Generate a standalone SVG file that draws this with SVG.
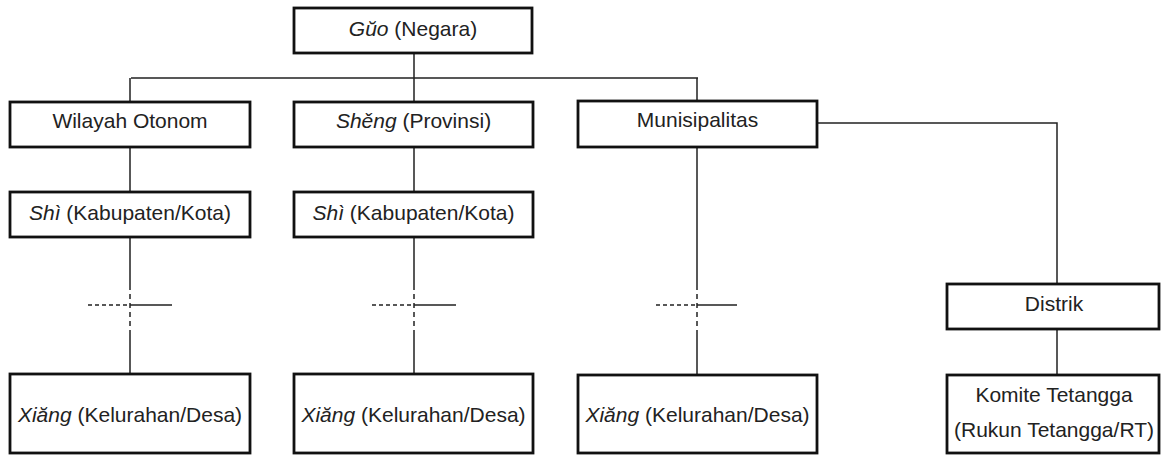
<svg xmlns="http://www.w3.org/2000/svg" width="1161" height="455" viewBox="0 0 1161 455">
<style>
.box{fill:#fff;stroke:#111;stroke-width:2.8}
.t{font-family:"Liberation Sans",Arial,sans-serif;font-size:21px;fill:#222;text-anchor:middle}
.i{font-style:italic}
.ln{stroke:#222;stroke-width:1.5;fill:none}
.dh{stroke:#222;stroke-width:1.5;fill:none;stroke-dasharray:4 3}
.dv{stroke:#222;stroke-width:1.5;fill:none;stroke-dasharray:5 4}
</style>
<rect width="1161" height="455" fill="#fff"/>
<g id="connectors">
<path class="ln" d="M414,53V102M131,78H698M130,78V102M697,78V101"/>
<path class="ln" d="M130,147V192M130,237V285M130,330V374M130,305H172"/>
<path class="dv" d="M130,285V330"/>
<path class="dh" d="M88,305H130"/>
<path class="ln" d="M414,147V192M414,237V285M414,330V374M414,305H456"/>
<path class="dv" d="M414,285V330"/>
<path class="dh" d="M372,305H414"/>
<path class="ln" d="M697,147V285M697,330V375M697,305H737"/>
<path class="dv" d="M697,285V330"/>
<path class="dh" d="M656,305H697"/>
<path class="ln" d="M817,123H1057V284M1057,329V375"/>
</g>
<g id="guo"><rect class="box" x="294" y="8" width="238" height="45"/><text class="t" x="413" y="36"><tspan class="i">Gŭo</tspan> (Negara)</text></g>
<g id="wilayah"><rect class="box" x="10" y="102" width="240" height="45"/><text class="t" x="130" y="128">Wilayah Otonom</text></g>
<g id="sheng"><rect class="box" x="294" y="102" width="239" height="45"/><text class="t" x="413.5" y="128"><tspan class="i">Shěng</tspan> (Provinsi)</text></g>
<g id="munisipalitas"><rect class="box" x="578" y="101" width="239" height="46"/><text class="t" x="697.5" y="127">Munisipalitas</text></g>
<g id="shi1"><rect class="box" x="10" y="192" width="240" height="45"/><text class="t" x="130" y="220"><tspan class="i">Shì</tspan> (Kabupaten/Kota)</text></g>
<g id="shi2"><rect class="box" x="294" y="192" width="239" height="45"/><text class="t" x="413.5" y="220"><tspan class="i">Shì</tspan> (Kabupaten/Kota)</text></g>
<g id="distrik"><rect class="box" x="947" y="284" width="212" height="45"/><text class="t" x="1054" y="311">Distrik</text></g>
<g id="xiang1"><rect class="box" x="10" y="374" width="240" height="79"/><text class="t" x="130" y="422"><tspan class="i">Xiăng</tspan> (Kelurahan/Desa)</text></g>
<g id="xiang2"><rect class="box" x="294" y="374" width="239" height="79"/><text class="t" x="413.5" y="422"><tspan class="i">Xiăng</tspan> (Kelurahan/Desa)</text></g>
<g id="xiang3"><rect class="box" x="578" y="375" width="239" height="78"/><text class="t" x="697.5" y="422"><tspan class="i">Xiăng</tspan> (Kelurahan/Desa)</text></g>
<g id="komite"><rect class="box" x="947" y="375" width="212" height="78"/><text class="t" x="1054" y="402">Komite Tetangga</text><text class="t" x="1054" y="437">(Rukun Tetangga/RT)</text></g>
</svg>
